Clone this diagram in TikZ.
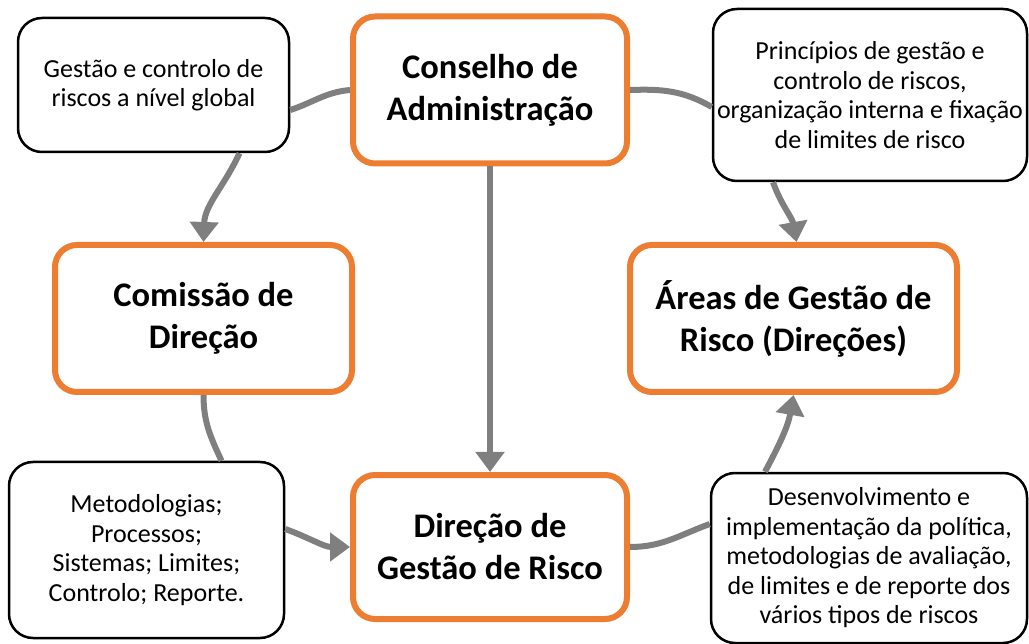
\documentclass[tikz,border=0pt]{standalone}
\usepackage{fontspec}
\setmainfont{Carlito}
\usetikzlibrary{arrows.meta}
\definecolor{boxorange}{HTML}{ED7D31}
\definecolor{arrowgray}{HTML}{7F7F7F}
\tikzset{
  mainbox/.style={draw=boxorange, line width=6pt, rounded corners=22pt, fill=white,
    align=center, font=\fontsize{34.5}{42}\selectfont\bfseries, inner sep=0pt},
  notebox/.style={draw=black, line width=2.5pt, rounded corners=24pt, fill=white,
    align=center, font=\fontsize{26}{29.5}\selectfont, inner sep=0pt},
  conn/.style={draw=arrowgray, line width=6pt},
  arr/.style={conn, -{Triangle[width=28pt,length=20pt]}}
}
\begin{document}
\begin{tikzpicture}[x=1pt,y=-1pt]
\useasboundingbox (0,0) rectangle (1029,644);
% main (orange) boxes
\node[mainbox, minimum width=274pt, minimum height=147pt] (ca) at (490,90) {Conselho de\\Administração};
\node[mainbox, minimum width=297pt, minimum height=147pt] (cd) at (203.5,318.5) {Comissão de\\Direção};
\node[mainbox, minimum width=327pt, minimum height=147pt] (ar) at (793.5,318.5) {Áreas de Gestão de\\Risco (Direções)};
\node[mainbox, minimum width=274pt, minimum height=144pt] (dg) at (490,547) {Direção de\\Gestão de Risco};
% note (black) boxes
\node[notebox, minimum width=271pt, minimum height=134pt] (g1) at (153.5,85) {Gestão e controlo de\\riscos a nível global};
\node[notebox, minimum width=314pt, minimum height=172pt] (p) at (870,95) {Princípios de gestão e\\controlo de riscos,\\organização interna e fixação\\de limites de risco};
\node[notebox, minimum width=275pt, minimum height=176pt] (m) at (146.5,550) {Metodologias;\\Processos;\\Sistemas; Limites;\\Controlo; Reporte.};
\node[notebox, minimum width=316pt, minimum height=170pt] (d) at (869,558) {Desenvolvimento e\\implementação da política,\\metodologias de avaliação,\\de limites e de reporte dos\\vários tipos de riscos};
% connectors
\draw[conn] ([yshift=-25pt]g1.east) to[out=18, in=185] (ca.west);
\draw[arr] ([xshift=86pt]g1.south) to[out=-115, in=88] (cd.north);
\draw[conn] (ca.east) to[out=2, in=150] ([yshift=-12pt]p.west);
\draw[arr] ([xshift=-97pt]p.south) to[out=-70, in=100] ([xshift=3pt]ar.north);
\draw[arr] (ca.south) -- (dg.north);
\draw[conn] (cd.south) to[out=-90, in=115] ([xshift=75pt]m.north);
\draw[arr] ([yshift=21pt]m.east) to[out=-20, in=180] (dg.west);
\draw[conn] (dg.east) to[out=0, in=200] ([yshift=34pt]d.west);
\draw[arr] ([xshift=-104pt]d.north) to[out=62, in=-100] (ar.south);
\end{tikzpicture}
\end{document}
